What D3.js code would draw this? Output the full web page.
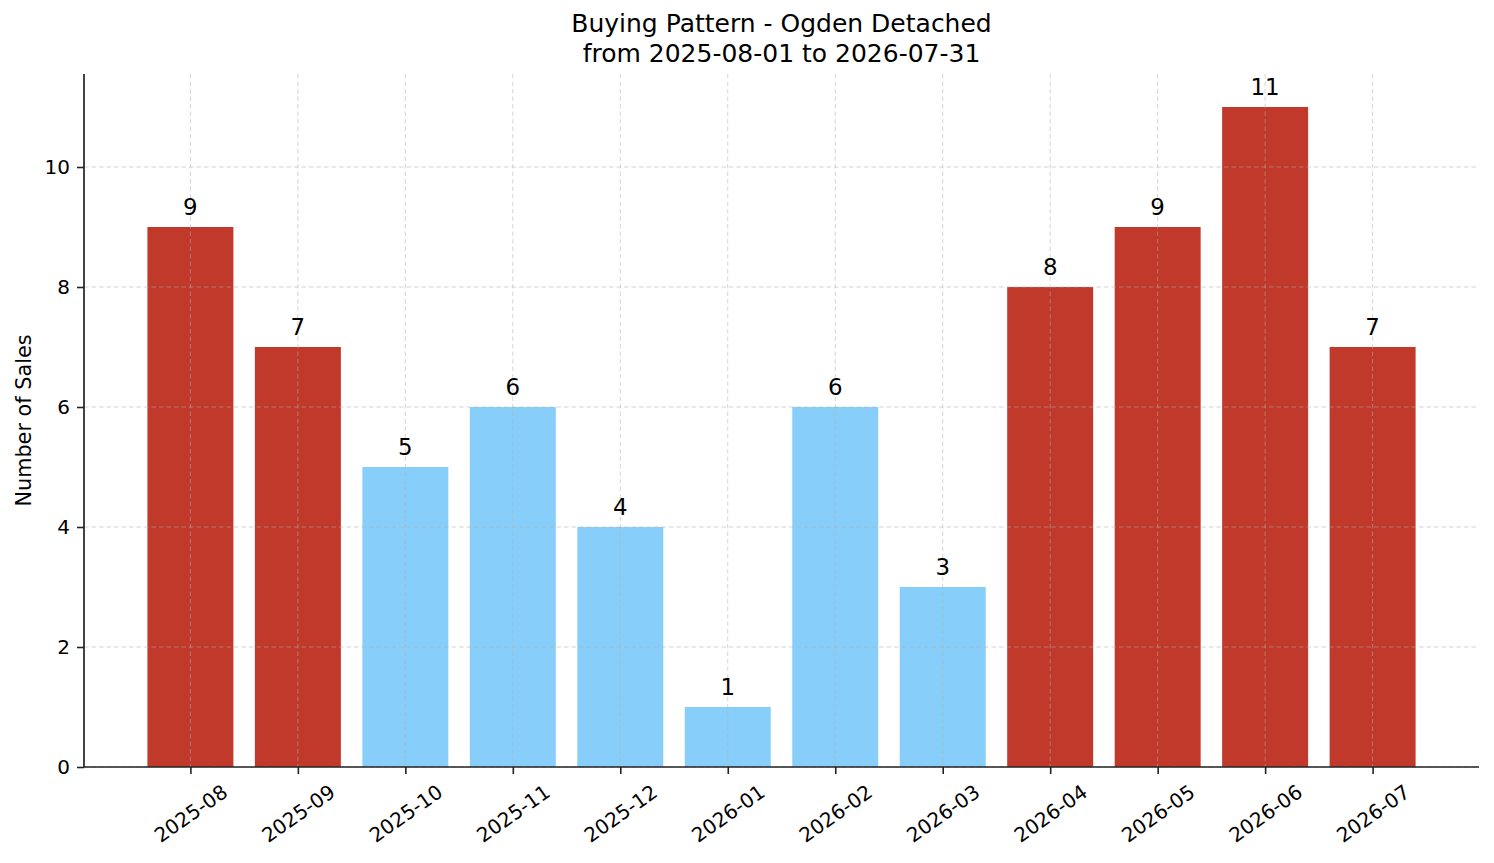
<!DOCTYPE html>
<html>
<head>
<meta charset="utf-8">
<script src="https://cdn.jsdelivr.net/npm/d3@7"></script>
<style>
    body { margin: 0; background: #fff; }
    svg { display: block; font-family: "DejaVu Sans", sans-serif; }
</style>
</head>
<body>
<svg id="chart" width="1494" height="863"></svg>
<script>
const months = ["2025-08", "2025-09", "2025-10", "2025-11", "2025-12", "2026-01",
                "2026-02", "2026-03", "2026-04", "2026-05", "2026-06", "2026-07"];
const sales = [9, 7, 5, 6, 4, 1, 6, 3, 8, 9, 11, 7];
const yTicks = [0, 2, 4, 6, 8, 10];
const titleLines = ["Buying Pattern - Ogden Detached", "from 2025-08-01 to 2026-07-31"];

const HIGH = "#c0392b";
const LOW = "#87cefa";
const TICK_FS = 20;

const margin = { left: 84, right: 15, top: 74, bottom: 96 };
const W = 1494, H = 863;
const iw = W - margin.left - margin.right;
const ih = H - margin.top - margin.bottom;

const svg = d3.select("#chart");
const g = svg.append("g").attr("transform", `translate(${margin.left},${margin.top})`);

// index positions, bar width 0.8, 5% margins like matplotlib
const n = months.length;
const x = d3.scaleLinear().domain([-0.99, n - 1 + 0.99]).range([0, iw]);
const y = d3.scaleLinear().domain([0, d3.max(sales) * 1.05]).range([ih, 0]);
const avg = d3.mean(sales);

// bars
g.append("g").selectAll("rect")
    .data(sales)
    .enter().append("rect")
    .attr("x", (d, i) => x(i - 0.4))
    .attr("width", x(0.8) - x(0))
    .attr("y", d => y(d))
    .attr("height", d => y(0) - y(d))
    .attr("fill", d => d > avg ? HIGH : LOW);

// grid drawn over the bars, faint
const grid = g.append("g").attr("stroke", "#b0b0b0").attr("stroke-opacity", 0.6)
    .attr("stroke-width", 0.9).attr("stroke-dasharray", "4.5,3");
grid.selectAll("line.gy")
    .data(yTicks)
    .enter().append("line")
    .attr("x1", 0).attr("x2", iw)
    .attr("y1", d => y(d)).attr("y2", d => y(d));
grid.selectAll("line.gx")
    .data(months)
    .enter().append("line")
    .attr("x1", (d, i) => x(i)).attr("x2", (d, i) => x(i))
    .attr("y1", 0).attr("y2", ih);

// value labels
g.append("g").selectAll("text")
    .data(sales)
    .enter().append("text")
    .attr("x", (d, i) => x(i))
    .attr("y", d => y(d) - 12)
    .attr("text-anchor", "middle")
    .attr("font-size", "22.9px")
    .attr("fill", "#000")
    .text(d => d);

// y axis
const yAxis = g.append("g")
    .call(d3.axisLeft(y).tickValues(yTicks).tickSize(7).tickPadding(7).tickFormat(d3.format("d")));
yAxis.select(".domain").attr("stroke", "#222").attr("stroke-width", 1.7)
    .attr("d", `M0,${ih}V0`);
yAxis.selectAll(".tick line").attr("stroke", "#222").attr("stroke-width", 1.6);
yAxis.selectAll(".tick text").attr("font-size", TICK_FS + "px").attr("fill", "#000")
    .attr("font-family", "DejaVu Sans");

// x axis
const xAxis = g.append("g").attr("transform", `translate(0,${ih})`)
    .call(d3.axisBottom(x).tickValues(d3.range(n)).tickSize(7).tickFormat(i => months[i]));
xAxis.select(".domain").attr("stroke", "#222").attr("stroke-width", 1.7)
    .attr("d", `M0,0H${iw}`);
xAxis.selectAll(".tick line").attr("stroke", "#222").attr("stroke-width", 1.6);

// rotated labels: rotated bbox centred on tick, top just under the tick
const ANG = 35;
const rad = ANG * Math.PI / 180;
xAxis.selectAll(".tick text")
    .attr("font-size", TICK_FS + "px").attr("fill", "#000").attr("font-family", "DejaVu Sans")
    .attr("dy", null).attr("y", 0)
    .attr("text-anchor", "middle")
    .attr("dominant-baseline", "central")
    .each(function () {
        const w = this.getComputedTextLength();
        const h = TICK_FS * 1.17;
        const half = (w / 2) * Math.sin(rad) + (h / 2) * Math.cos(rad);
        d3.select(this).attr("transform", `translate(0,${7 + 6 + half}) rotate(${-ANG})`);
    });

// y label
svg.append("text")
    .attr("transform", `translate(23.5,${margin.top + ih / 2}) rotate(-90)`)
    .attr("text-anchor", "middle")
    .attr("dominant-baseline", "central")
    .attr("font-size", "20.8px")
    .text("Number of Sales");

// title
svg.append("g").selectAll("text")
    .data(titleLines)
    .enter().append("text")
    .attr("x", margin.left + iw / 2)
    .attr("y", (d, i) => 32 + i * 30)
    .attr("text-anchor", "middle")
    .attr("font-size", "25px")
    .text(d => d);
</script>
</body>
</html>
